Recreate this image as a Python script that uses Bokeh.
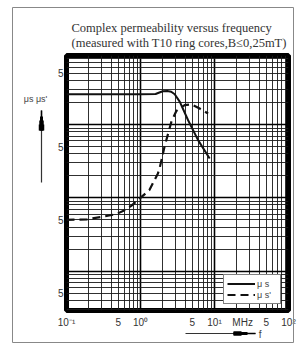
from bokeh.plotting import figure
from bokeh.models import (FixedTicker, Label, Arrow, NormalHead, Title,
                          Legend, LegendItem, ColumnDataSource)
from bokeh.embed import file_html
from bokeh.resources import INLINE

# ---- data (frequency in MHz) ----
freq_real = [0.1, 0.5, 1.0, 1.6, 1.8, 2.0, 2.3, 2.6, 2.9, 3.4, 4.4, 6.0, 8.6]
mu_real = [2600, 2600, 2600, 2620, 2750, 2860, 2880, 2820, 2600, 2050, 1150, 615, 345]

freq_imag = [0.1, 0.19, 0.33, 0.47, 0.61, 0.75, 0.92, 1.32, 1.72, 1.81, 2.11, 2.61,
             3.05, 3.95, 4.86, 6.3, 8.2]
mu_imag = [50, 51, 56, 60, 68, 78, 93, 128, 216, 252, 498, 1090,
           1540, 1850, 1900, 1660, 1420]

x_tick_values = [0.1, 0.5, 1, 5, 10, 24, 50, 100]
x_tick_labels = ["10⁻¹", "5", "10⁰", "5", "10¹", "MHz", "5", "10²"]
y_tick_values = [5, 50, 500, 5000]
y_tick_labels = ["5", "5", "5", "5"]

title_lines = ["Complex permeability versus frequency",
               "(measured with T10 ring cores,B≤0,25mT)"]
legend_labels = ["μ s", "μ s'"]
y_label = "μs μs'"
x_label = "f"

W, H = 301, 343
p = figure(width=W, height=H, x_axis_type="log", y_axis_type="log",
           x_range=(0.1, 100), y_range=(2.9, 8800),
           output_backend="svg", toolbar_location=None,
           min_border_left=66, min_border_right=13, min_border_top=55, min_border_bottom=33)
p.background_fill_color = "white"
p.border_fill_color = "white"
p.outline_line_color = "black"
p.outline_line_width = 5

# axes
for ax, vals, labs in ((p.xaxis[0], x_tick_values, x_tick_labels),
                       (p.yaxis[0], y_tick_values, y_tick_labels)):
    ax.ticker = FixedTicker(ticks=vals)
    ax.major_label_overrides = {v: l for v, l in zip(vals, labs)}
    ax.major_tick_line_color = None
    ax.minor_tick_line_color = None
    ax.major_tick_out = 0
    ax.major_tick_in = 0
    ax.minor_tick_out = 0
    ax.minor_tick_in = 0
    ax.axis_line_color = None
    ax.major_label_text_font = "Liberation Sans"
    ax.major_label_text_font_size = "10px"
    ax.major_label_text_color = "#333333"
p.xaxis.major_label_standoff = 6
p.yaxis.major_label_standoff = 3

# grids
x_dec = [0.1, 1, 10, 100]
x_minor = [k * 10.0 ** e for e in (-1, 0, 1) for k in range(1, 10)] + [100]
y_dec = [10, 100, 1000]
y_minor = [k * 10.0 ** e for e in (0, 1, 2, 3) for k in range(1, 10)]
p.xgrid.ticker = FixedTicker(ticks=x_dec, minor_ticks=x_minor)
p.ygrid.ticker = FixedTicker(ticks=y_dec, minor_ticks=y_minor)
for g in (p.xgrid[0], p.ygrid[0]):
    g.grid_line_color = "black"
    g.grid_line_width = 1.6
    g.minor_grid_line_color = "#1a1a1a"
    g.minor_grid_line_width = 1
    g.minor_grid_line_alpha = 0.9

# curves
src_r = ColumnDataSource(dict(f=freq_real, mu=mu_real))
src_i = ColumnDataSource(dict(f=freq_imag, mu=mu_imag))
r1 = p.line("f", "mu", source=src_r, line_color="#111111", line_width=2)
r2 = p.line("f", "mu", source=src_i, line_color="#111111", line_width=2.2, line_dash="8 5")

leg = Legend(items=[LegendItem(label=legend_labels[0], renderers=[r1]),
                    LegendItem(label=legend_labels[1], renderers=[r2])],
             location=(157, 6), margin=0, padding=3, spacing=0,
             glyph_width=28, glyph_height=11, label_standoff=2,
             label_text_font="Liberation Sans", label_text_font_size="9px",
             label_text_color="#444444", label_height=11,
             border_line_color="black", border_line_width=1,
             background_fill_color="white", background_fill_alpha=1)
p.add_layout(leg, "center")

# two-line title in the top panel
p.add_layout(Title(text="\n".join(title_lines), align="left", offset=5, standoff=10,
                   text_font="Liberation Serif", text_font_size="12.5px", text_line_height=1.1,
                   text_font_style="normal", text_color="#333333"), "above")
# x label below the axis
p.add_layout(Title(text=x_label, align="right", offset=27, standoff=-7,
                   text_font="Liberation Sans", text_font_size="10px",
                   text_font_style="normal", text_color="#444444"), "below")
# y label in the left panel
p.add_layout(Label(x=35, y=98, x_units="canvas", y_units="canvas", text=y_label,
                   text_font="Liberation Sans", text_font_size="9px", text_color="#444444",
                   text_baseline="middle", text_align="center"), "left")


def stroke(tip, direction, length, width, color):
    """Arrow body that shows only inside its (invisible) head's region outside the frame:
    gives a straight stroke of `length` px ending at `tip`."""
    x1, y1 = tip
    dx, dy = direction
    p.add_layout(Arrow(x_start=x1 - dx * (length + 2), y_start=y1 - dy * (length + 2),
                       x_end=x1, y_end=y1, start_units="canvas", end_units="canvas",
                       line_color=color, line_width=width,
                       end=NormalHead(size=length, fill_alpha=0, line_alpha=0)))


def arrow_head(tip, direction, length, pieces):
    x1, y1 = tip
    dx, dy = direction
    for a, w in pieces:
        stroke((x1 - dx * a, y1 - dy * a), direction, length - a, w, "black")


# y arrow (pointing up)
stroke((41, 110), (0, -1), 72, 1.2, "#333333")
arrow_head((41, 110), (0, -1), 20, [(0, 1.5), (6, 3), (10, 4.5), (14, 6)])
# x arrow (pointing right)
stroke((255, 333), (1, 0), 70, 1.2, "#333333")
arrow_head((255, 333), (1, 0), 22, [(0, 1.5), (8, 3), (14, 4.5)])

# outer thin frame
stroke((12, 342), (0, 1), 335, 1, "#888888")
stroke((293, 342), (0, 1), 335, 1, "#888888")
stroke((293, 7), (1, 0), 281, 1, "#888888")
stroke((293, 342), (1, 0), 281, 1, "#888888")

open("out.html", "w").write(file_html(p, INLINE))
